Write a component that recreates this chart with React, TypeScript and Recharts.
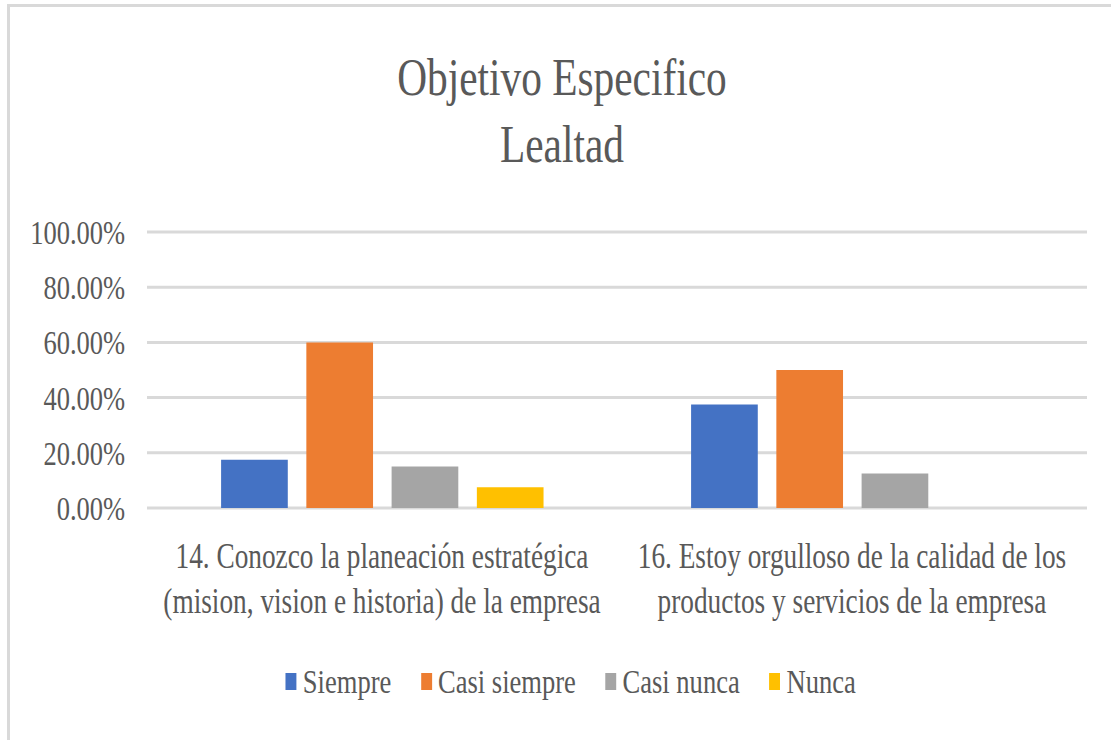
import { BarChart, Bar, XAxis, YAxis, CartesianGrid, Legend } from "recharts";

// categorias (dos lineas cada una, como en el grafico original)
const categoryLines = [
  ["14. Conozco la planeación estratégica", "(mision, vision e historia) de la empresa"],
  ["16. Estoy orgulloso de la calidad de los", "productos y servicios de la empresa"],
];
const categories = categoryLines.map(l => l.join(" "));

const seriesNames = ["Siempre", "Casi siempre", "Casi nunca", "Nunca"];
const siempre = [0.175, 0.375];
const casiSiempre = [0.6, 0.5];
const casiNunca = [0.15, 0.125];
const nunca = [0.075, 0];
const yTicks = [0, 0.2, 0.4, 0.6, 0.8, 1];

const titleLines = ["Objetivo Especifico", "Lealtad"];

const COLORS = ["#4472C4", "#ED7D31", "#A5A5A5", "#FFC000"];
const KEYS = ["siempre", "casiSiempre", "casiNunca", "nunca"];
const FONT = '"Liberation Serif", "Times New Roman", serif';
const TEXT = "#595959";
const GRID = "#d9d9d9";

// the original picture is squeezed horizontally, so draw wide and scale down
const SX = 0.78;
const W = 1111 / SX;
const H = 740;

const data = categories.map((name, i) => ({
  name,
  siempre: siempre[i],
  casiSiempre: casiSiempre[i],
  casiNunca: casiNunca[i],
  nunca: nunca[i],
}));

const pct = (v: number) => `${(v * 100).toFixed(2)}%`;

function CategoryTick(props: any) {
  const { x, y, payload } = props;
  const idx = categories.indexOf(payload.value);
  const lines = idx >= 0 ? categoryLines[idx] : [String(payload.value)];
  return (
    <text x={x} y={y} textAnchor="middle" fill={TEXT} fontFamily={FONT} fontSize={35}>
      {lines.map((line, i) => (
        <tspan key={i} x={x} dy={i === 0 ? 60 : 45}>{line}</tspan>
      ))}
    </text>
  );
}

function LegendContent(props: any) {
  // keep series order (recharts sorts the payload by name)
  const payload: any[] = props.payload || [];
  const items = seriesNames.map((n, i) => {
    const p = payload.find(e => e.value === n);
    return { value: n, color: p ? p.color : COLORS[i] };
  });
  return (
    <div style={{ display: "flex", justifyContent: "center", fontFamily: FONT, fontSize: 34, color: TEXT, lineHeight: "40px", height: 40 }}>
      {items.map((it, i) => (
        <div key={it.value} style={{ display: "flex", alignItems: "center", marginRight: i < items.length - 1 ? 38 : 0 }}>
          <span style={{ display: "inline-block", width: 14, height: 17, background: it.color, marginRight: 8 }} />
          <span style={{ whiteSpace: "nowrap" }}>{it.value}</span>
        </div>
      ))}
    </div>
  );
}

export default function App() {
  return (
    <div style={{ position: "absolute", left: 0, top: 0, width: 1111, height: 740, overflow: "hidden", background: "#fff" }}>
      <div style={{ position: "absolute", left: 7, top: 4, right: 0, bottom: 0, borderTop: `3px solid ${GRID}`, borderLeft: `3px solid ${GRID}` }} />
      <div style={{ position: "absolute", left: 0, top: 0, width: W, height: H, transform: `scaleX(${SX})`, transformOrigin: "0 0" }}>
        <div style={{ position: "absolute", left: 720.5 - 500, top: 43.6, width: 1000, textAlign: "center", fontFamily: FONT, fontSize: 53, lineHeight: "67px", color: TEXT, whiteSpace: "nowrap" }}>
          {titleLines.map(t => <div key={t}>{t}</div>)}
        </div>
        <BarChart
          width={W}
          height={H}
          data={data}
          margin={{ top: 232, right: W - 1087 / SX, bottom: 0, left: 0 }}
          barSize={85.5}
          barGap={23.8}
        >
          <CartesianGrid vertical={false} stroke={GRID} strokeWidth={3} />
          <XAxis
            dataKey="name"
            axisLine={false}
            tickLine={false}
            tickSize={0}
            tickMargin={0}
            height={232}
            interval={0}
            tick={<CategoryTick />}
          />
          <YAxis
            domain={[0, 1]}
            ticks={yTicks}
            tickFormatter={pct}
            axisLine={false}
            tickLine={false}
            tickSize={0}
            tickMargin={28}
            width={147 / SX}
            tick={{ fill: TEXT, fontFamily: FONT, fontSize: 34 }}
          />
          <Legend
            layout="horizontal"
            verticalAlign="middle"
            align="center"
            content={<LegendContent />}
            wrapperStyle={{ top: 661.5, left: 731.7 - 600, width: 1200, height: 40 }}
          />
          {KEYS.map((k, i) => (
            <Bar key={k} dataKey={k} name={seriesNames[i]} fill={COLORS[i]} isAnimationActive={false} />
          ))}
        </BarChart>
      </div>
    </div>
  );
}
